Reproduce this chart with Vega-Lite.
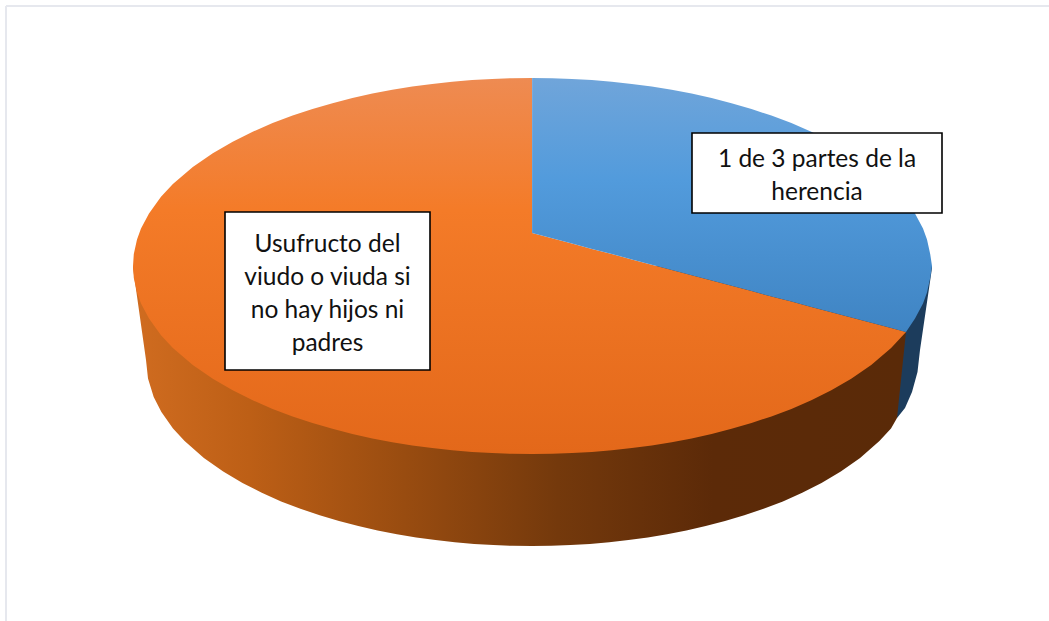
{"$schema":"https://vega.github.io/schema/vega-lite/v6.json","width":1049,"height":621,"padding":0,"autosize":{"type":"none"},"background":"#ffffff","config":{"view":{"stroke":null}},
"datasets":{
"sideBlue":[{"x":897,"y":266,"y2":418},{"x":905,"y":266,"y2":408},{"x":912,"y":266,"y2":392},{"x":917.5,"y":266,"y2":372},{"x":920,"y":266,"y2":350},{"x":932,"y":266,"y2":268}],
"sideOrange":[{"x":133,"y":266,"y2":268},{"x":146,"y":266,"y2":360},{"x":148,"y":266,"y2":378.6},{"x":153.7,"y":266,"y2":397},{"x":161.4,"y":266,"y2":412.1},{"x":173,"y":266,"y2":428.4},{"x":184.6,"y":266,"y2":441.1},{"x":203.9,"y":266,"y2":458},{"x":223.2,"y":266,"y2":471.6},{"x":242.5,"y":266,"y2":482.9},{"x":261.8,"y":266,"y2":492.8},{"x":281.1,"y":266,"y2":501.4},{"x":300.4,"y":266,"y2":508.8},{"x":319.7,"y":266,"y2":515.3},{"x":339,"y":266,"y2":521.1},{"x":358.3,"y":266,"y2":526.1},{"x":377.6,"y":266,"y2":530.6},{"x":396.9,"y":266,"y2":534.3},{"x":416.2,"y":266,"y2":537.4},{"x":435.5,"y":266,"y2":540},{"x":454.8,"y":266,"y2":542.3},{"x":474.1,"y":266,"y2":543.9},{"x":493.4,"y":266,"y2":545.1},{"x":512.7,"y":266,"y2":545.8},{"x":532,"y":266,"y2":546},{"x":551.3,"y":266,"y2":545.8},{"x":570.6,"y":266,"y2":545.1},{"x":589.9,"y":266,"y2":543.9},{"x":609.2,"y":266,"y2":542.3},{"x":628.5,"y":266,"y2":540},{"x":647.8,"y":266,"y2":537.4},{"x":667.1,"y":266,"y2":534.3},{"x":686.4,"y":266,"y2":530.6},{"x":705.7,"y":266,"y2":526.1},{"x":725,"y":266,"y2":521.1},{"x":744.3,"y":266,"y2":515.3},{"x":763.6,"y":266,"y2":508.8},{"x":782.9,"y":266,"y2":501.4},{"x":802.2,"y":266,"y2":492.8},{"x":821.5,"y":266,"y2":482.9},{"x":840.8,"y":266,"y2":471.6},{"x":860.1,"y":266,"y2":458},{"x":879.4,"y":266,"y2":441.1},{"x":891,"y":266,"y2":428.4},{"x":897,"y":266,"y2":418},{"x":906,"y":266,"y2":332}],
"faceOrange":[{"x":133,"y":266,"y2":266},{"x":133.8,"y":254.1,"y2":277.9},{"x":137,"y":239.5,"y2":292.5},{"x":141,"y":228.6,"y2":303.4},{"x":149,"y":213.4,"y2":318.6},{"x":161,"y":196.8,"y2":335.2},{"x":172.9,"y":184,"y2":348},{"x":192.8,"y":166.9,"y2":365.1},{"x":212.8,"y":153.2,"y2":378.8},{"x":232.7,"y":141.7,"y2":390.3},{"x":252.7,"y":131.8,"y2":400.2},{"x":272.6,"y":123.1,"y2":408.9},{"x":292.6,"y":115.6,"y2":416.4},{"x":312.5,"y":109,"y2":423},{"x":332.5,"y":103.2,"y2":428.8},{"x":352.4,"y":98.1,"y2":433.9},{"x":372.4,"y":93.6,"y2":438.4},{"x":392.3,"y":89.8,"y2":442.2},{"x":412.3,"y":86.6,"y2":445.4},{"x":432.2,"y":84,"y2":448},{"x":452.2,"y":81.8,"y2":450.2},{"x":472.1,"y":80.1,"y2":451.9},{"x":492.1,"y":78.9,"y2":453.1},{"x":512,"y":78.2,"y2":453.8},{"x":532,"y":78,"y2":454},{"x":532.1,"y":233,"y2":454},{"x":552,"y":238.3,"y2":453.8},{"x":571.9,"y":243.6,"y2":453.1},{"x":591.9,"y":248.9,"y2":451.9},{"x":611.8,"y":254.1,"y2":450.2},{"x":631.8,"y":259.4,"y2":448},{"x":651.7,"y":264.7,"y2":445.4},{"x":671.7,"y":270,"y2":442.2},{"x":691.6,"y":275.3,"y2":438.4},{"x":711.6,"y":280.5,"y2":433.9},{"x":731.5,"y":285.8,"y2":428.8},{"x":751.5,"y":291.1,"y2":423},{"x":771.4,"y":296.4,"y2":416.4},{"x":791.4,"y":301.6,"y2":408.9},{"x":811.3,"y":306.9,"y2":400.2},{"x":831.3,"y":312.2,"y2":390.3},{"x":851.2,"y":317.5,"y2":378.8},{"x":871.2,"y":322.7,"y2":365.1},{"x":891.1,"y":328,"y2":348},{"x":906,"y":332,"y2":332}],
"faceBlue":[{"x":532.1,"y":78,"y2":233},{"x":552,"y":78.2,"y2":238.3},{"x":571.9,"y":78.9,"y2":243.6},{"x":591.9,"y":80.1,"y2":248.9},{"x":611.8,"y":81.8,"y2":254.1},{"x":631.8,"y":84,"y2":259.4},{"x":651.7,"y":86.6,"y2":264.7},{"x":671.7,"y":89.8,"y2":270},{"x":691.6,"y":93.6,"y2":275.3},{"x":711.6,"y":98.1,"y2":280.5},{"x":731.5,"y":103.2,"y2":285.8},{"x":751.5,"y":109,"y2":291.1},{"x":771.4,"y":115.6,"y2":296.4},{"x":791.4,"y":123.1,"y2":301.6},{"x":811.3,"y":131.8,"y2":306.9},{"x":831.3,"y":141.7,"y2":312.2},{"x":851.2,"y":153.2,"y2":317.5},{"x":871.2,"y":166.9,"y2":322.7},{"x":891.1,"y":184,"y2":328},{"x":903,"y":196.8,"y2":331.2},{"x":906,"y":200.3,"y2":332},{"x":915,"y":213.4,"y2":318.6},{"x":923,"y":228.6,"y2":303.4},{"x":927,"y":239.5,"y2":292.5},{"x":930.2,"y":254.1,"y2":277.9},{"x":932,"y":266,"y2":266}],
"labels":[{"x":692,"x2":942,"y":133,"y2":213,"cx":817,"cy":160,"label":"1 de 3 partes de la\nherencia"},{"x":225,"x2":430,"y":212,"y2":370,"cx":327.5,"cy":245,"label":"Usufructo del\nviudo o viuda si\nno hay hijos ni\npadres"}],
"frame":[{"x":6,"x2":6,"y":6,"y2":621},{"x":6,"x2":1049,"y":6,"y2":6}]
},
"encoding":{
"x":{"field":"x","type":"quantitative","scale":{"domain":[0,1049],"nice":false,"zero":false},"axis":null},
"y":{"field":"y","type":"quantitative","scale":{"domain":[621,0],"nice":false,"zero":false},"axis":null}
},
"layer":[
{"data":{"name":"frame"},"mark":{"type":"rule","stroke":"#e6e8ee","strokeWidth":2},"encoding":{"x2":{"field":"x2"},"y2":{"field":"y2"}}},
{"data":{"name":"sideBlue"},"mark":{"type":"area","fill":"#1c3c5c"},"encoding":{"y2":{"field":"y2"}}},
{"data":{"name":"sideOrange"},"mark":{"type":"area","fill":{"gradient":"linear","x1":0,"y1":0,"x2":1,"y2":0,"stops":[{"offset":0,"color":"#d06c20"},{"offset":0.15,"color":"#bd5f16"},{"offset":0.35,"color":"#994c10"},{"offset":0.55,"color":"#74390c"},{"offset":0.75,"color":"#5c2a08"},{"offset":1,"color":"#5a2a08"}]}},"encoding":{"y2":{"field":"y2"}}},
{"data":{"name":"faceOrange"},"mark":{"type":"area","fill":{"gradient":"linear","x1":0,"y1":0,"x2":0,"y2":1,"stops":[{"offset":0,"color":"#ee8b52"},{"offset":0.35,"color":"#f47b28"},{"offset":1,"color":"#e3681a"}]}},"encoding":{"y2":{"field":"y2"}}},
{"data":{"name":"faceBlue"},"mark":{"type":"area","fill":{"gradient":"linear","x1":0,"y1":0,"x2":0,"y2":1,"stops":[{"offset":0,"color":"#70a5da"},{"offset":0.4,"color":"#529bdc"},{"offset":1,"color":"#3f84c3"}]}},"encoding":{"y2":{"field":"y2"}}},
{"data":{"name":"labels"},"mark":{"type":"rect","fill":"#ffffff","stroke":"#000000","strokeWidth":1.6},"encoding":{"x2":{"field":"x2"},"y2":{"field":"y2"}}},
{"data":{"name":"labels"},"mark":{"type":"text","font":"Lato","fontSize":24.5,"lineHeight":33,"lineBreak":"\n","align":"center","baseline":"middle","color":"#111111"},"encoding":{"x":{"field":"cx","type":"quantitative"},"y":{"field":"cy","type":"quantitative"},"text":{"field":"label"}}}
]}
